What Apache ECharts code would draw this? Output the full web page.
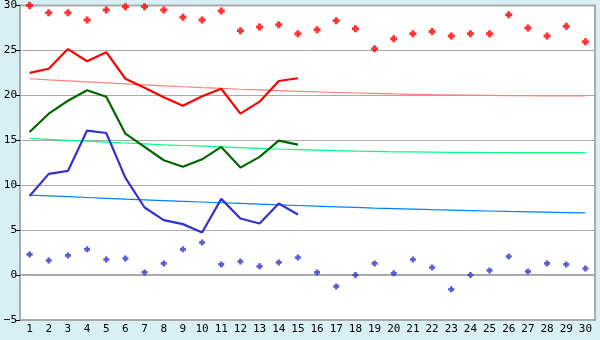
<!DOCTYPE html>
<html><head><meta charset="utf-8">
<script src="https://cdn.jsdelivr.net/npm/echarts@6/dist/echarts.min.js"></script>
<style>html,body{margin:0;padding:0;background:#d9eff6;}#c{width:600px;height:340px;}</style>
</head><body><div id="c"></div>
<script>
var categories = ['1','2','3','4','5','6','7','8','9','10','11','12','13','14','15','16','17','18','19','20','21','22','23','24','25','26','27','28','29','30'];
var maxPoints = [30.0,29.2,29.2,28.4,29.5,29.85,29.85,29.5,28.7,28.4,29.4,27.2,27.6,27.85,26.85,27.3,28.3,27.4,25.2,26.3,26.85,27.1,26.6,26.85,26.85,28.96,27.5,26.6,27.7,25.96];
var minPoints = [2.3,1.63,2.19,2.86,1.74,1.85,0.3,1.3,2.86,3.63,1.19,1.52,0.97,1.41,1.96,0.3,-1.26,0.0,1.3,0.19,1.74,0.85,-1.59,0.0,0.52,2.07,0.41,1.3,1.19,0.74];
var redLine = [22.5,22.96,25.15,23.8,24.8,21.85,20.85,19.8,18.85,19.9,20.74,17.96,19.3,21.6,21.9];
var greenLine = [15.92,17.96,19.4,20.56,19.85,15.74,14.26,12.78,12.05,12.88,14.26,11.96,13.15,14.96,14.52];
var blueLine = [8.81,11.26,11.59,16.08,15.81,10.81,7.52,6.11,5.67,4.74,8.48,6.3,5.74,7.96,6.74];
var redTrend = [21.85,21.73,21.62,21.5,21.39,21.28,21.17,21.06,20.96,20.86,20.77,20.68,20.6,20.52,20.45,20.38,20.32,20.26,20.21,20.16,20.12,20.08,20.05,20.02,20.0,19.98,19.96,19.95,19.94,19.93];
var greenTrend = [15.2,15.1,15.0,14.9,14.8,14.7,14.6,14.5,14.42,14.34,14.26,14.18,14.1,14.03,13.97,13.91,13.85,13.8,13.76,13.72,13.7,13.68,13.66,13.65,13.64,13.63,13.63,13.62,13.62,13.62];
var blueTrend = [8.9,8.81,8.72,8.63,8.54,8.45,8.37,8.29,8.21,8.13,8.05,7.97,7.89,7.81,7.74,7.67,7.6,7.53,7.46,7.4,7.34,7.28,7.23,7.18,7.13,7.08,7.04,7.0,6.96,6.92];
var yTicks = [-5,0,5,10,15,20,25,30];

var chart = echarts.init(document.getElementById('c'), null, {renderer:'canvas'});
var font = 'DejaVu Sans Mono';
var plus = 'path://M2,0 L5,0 L5,2 L7,2 L7,5 L5,5 L5,7 L2,7 L2,5 L0,5 L0,2 L2,2 Z';
function line(data, color, width, z){
  return {type:'line', data:data, symbol:'none', z:z, lineStyle:{color:color, width:width}, itemStyle:{color:color}, animation:false};
}
function pts(data, color, size, z){
  return {type:'scatter', data:data, symbol:plus, symbolSize:size, z:z, itemStyle:{color:color}, animation:false};
}
chart.setOption({
  backgroundColor:'#d9eff6',
  animation:false,
  grid:{left:20, right:5, top:5, bottom:20, show:true, backgroundColor:'#ffffff', borderColor:'#aaaaaa', borderWidth:2},
  xAxis:{type:'category', data:categories, boundaryGap:true,
    axisLine:{lineStyle:{color:'#aaaaaa', width:2}},
    axisTick:{alignWithLabel:true, length:5, lineStyle:{color:'#000000'}},
    axisLabel:{color:'#000', fontFamily:font, fontSize:11, margin:4, interval:0},
    splitLine:{show:false}},
  yAxis:{type:'value', min:-5, max:30, interval:5,
    axisLine:{show:true, lineStyle:{color:'#aaaaaa', width:2}},
    axisTick:{show:true, length:4, lineStyle:{color:'#000'}},
    axisLabel:{color:'#000', fontFamily:font, fontSize:11, margin:3, formatter:function(v){return yTicks.indexOf(v)>=0 ? String(v).replace('-','\u2212') : '';}},
    splitLine:{lineStyle:{color:'#aaaaaa', width:1}}},
  series:[
    line(redTrend, '#ff8080', 1.2, 2),
    line(greenTrend, '#00ff80', 1.2, 2),
    line(blueTrend, '#0080ff', 1.2, 2),
    line(redLine, '#ff0000', 2.2, 3),
    line(greenLine, '#006600', 2.2, 3),
    line(blueLine, '#3333cc', 2.2, 3),
    pts(maxPoints, '#ff0000', 7, 4),
    pts(minPoints, '#3333cc', 6, 4)
  ]
});
</script></body></html>
